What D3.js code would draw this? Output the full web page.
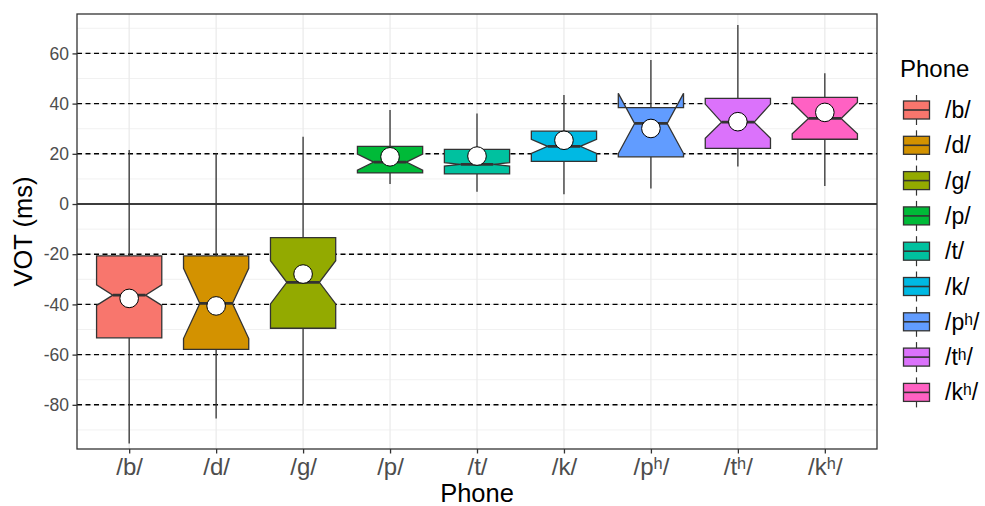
<!DOCTYPE html>
<html><head><meta charset="utf-8">
<script src="https://cdn.jsdelivr.net/npm/d3@7"></script>
<style>body{margin:0;background:#fff}svg{display:block;font-family:"Liberation Sans",Arial,sans-serif}</style>
</head><body><svg id="c" width="985" height="506"></svg>
<script>
const categories = ["/b/","/d/","/g/","/p/","/t/","/k/","/pʰ/","/tʰ/","/kʰ/"];
const colors = ["#F8766D","#D39200","#93AA00","#00BA38","#00C19F","#00B9E3","#619CFF","#DB72FB","#FF61C3"];
const whiskerLow  = [-95.4,-85.4,-79.8, 8.0, 4.9, 3.9, 6.2,14.9, 7.2];
const q1          = [-53.3,-57.9,-49.5,12.4,12.0,17.0,18.8,22.2,25.8];
const median      = [-36.3,-39.6,-31.2,16.7,15.8,23.0,32.1,32.6,34.1];
const q3          = [-20.7,-20.7,-13.4,23.0,21.8,29.0,38.4,42.1,42.5];
const notchLow    = [-40.4,-53.6,-39.8,13.5,15.1,20.2,20.1,26.2,28.0];
const notchHigh   = [-32.2,-25.6,-22.6,19.9,16.5,25.8,44.1,39.8,40.5];
const whiskerHigh = [ 21.5, 20.2, 26.8,37.5,36.1,43.4,57.4,71.3,52.1];
const meanVOT     = [-37.6,-40.6,-27.9,18.8,19.1,25.4,30.1,32.8,36.5];
const yTicks = [-80,-60,-40,-20,0,20,40,60];
const yMinor = [-90,-70,-50,-30,-10,10,30,50,70];
const refLines = [-80,-60,-40,-20,20,40,60];

const svg = d3.select("#c");
const P = {l:77, t:14, r:877, b:449};
const x = d3.scalePoint().domain(categories).range([P.l, P.r]).padding(0.6);
const step = x.step();
const y = d3.scaleLinear().domain([-97.6, 75.7]).range([P.b, P.t]);
const bw = step*0.75;

const g = svg.append("g");
g.append("rect").attr("x",P.l).attr("y",P.t).attr("width",P.r-P.l).attr("height",P.b-P.t).attr("fill","#fff");
// grid
g.selectAll(".ymin").data(yMinor).join("line").attr("x1",P.l).attr("x2",P.r)
  .attr("y1",d=>y(d)).attr("y2",d=>y(d)).attr("stroke","#EBEBEB").attr("stroke-width",0.7);
g.selectAll(".ymaj").data(yTicks).join("line").attr("x1",P.l).attr("x2",P.r)
  .attr("y1",d=>y(d)).attr("y2",d=>y(d)).attr("stroke","#EBEBEB").attr("stroke-width",1.3);
g.selectAll(".xmaj").data(categories).join("line").attr("y1",P.t).attr("y2",P.b)
  .attr("x1",d=>x(d)).attr("x2",d=>x(d)).attr("stroke","#EBEBEB").attr("stroke-width",1.3);
// reference lines
g.selectAll(".ref").data(refLines).join("line").attr("x1",P.l).attr("x2",P.r)
  .attr("y1",d=>y(d)).attr("y2",d=>y(d)).attr("stroke","#000").attr("stroke-width",1.4).attr("stroke-dasharray","5,3.5");
g.append("line").attr("x1",P.l).attr("x2",P.r).attr("y1",y(0)).attr("y2",y(0)).attr("stroke","#000").attr("stroke-width",1.4);

// boxes
categories.forEach((c,i)=>{
  const cx = x(c), xmin = cx-bw/2, xmax = cx+bw/2, nxmin = cx-bw/4, nxmax = cx+bw/4;
  g.append("line").attr("x1",cx).attr("x2",cx).attr("y1",y(q3[i])).attr("y2",y(whiskerHigh[i])).attr("stroke","#333").attr("stroke-width",1.3);
  g.append("line").attr("x1",cx).attr("x2",cx).attr("y1",y(q1[i])).attr("y2",y(whiskerLow[i])).attr("stroke","#333").attr("stroke-width",1.3);
  const pts = [[xmin,q3[i]],[xmin,notchHigh[i]],[nxmin,median[i]],[xmin,notchLow[i]],[xmin,q1[i]],
    [xmax,q1[i]],[xmax,notchLow[i]],[nxmax,median[i]],[xmax,notchHigh[i]],[xmax,q3[i]]];
  g.append("path").attr("d", d3.line().x(p=>p[0]).y(p=>y(p[1]))(pts)+"Z")
    .attr("fill",colors[i]).attr("stroke","#333").attr("stroke-width",1.3).attr("stroke-linejoin","miter");
  g.append("line").attr("x1",nxmin).attr("x2",nxmax).attr("y1",y(median[i])).attr("y2",y(median[i])).attr("stroke","#333").attr("stroke-width",2.8);
  g.append("circle").attr("cx",cx).attr("cy",y(meanVOT[i])).attr("r",9.3).attr("fill","#fff").attr("stroke","#000").attr("stroke-width",1);
});

g.append("rect").attr("x",P.l).attr("y",P.t).attr("width",P.r-P.l).attr("height",P.b-P.t).attr("fill","none").attr("stroke","#333").attr("stroke-width",1.3);

// axes
const ya = svg.append("g").attr("transform",`translate(${P.l},0)`)
  .call(d3.axisLeft(y).tickValues(yTicks).tickFormat(d=>String(d)).tickSize(4.5).tickPadding(3.5));
ya.select(".domain").remove();
ya.selectAll(".tick line").attr("stroke","#333").attr("stroke-width",1.3);
ya.selectAll(".tick text").attr("fill","#4D4D4D").style("font-size","17.5px").style("font-family","Liberation Sans, Arial, sans-serif");
const xa = svg.append("g").attr("transform",`translate(0,${P.b})`).call(d3.axisBottom(x).tickSize(4.5).tickPadding(4));
xa.select(".domain").remove();
xa.selectAll(".tick line").attr("stroke","#333").attr("stroke-width",1.3);
xa.selectAll(".tick text").attr("fill","#4D4D4D").style("font-size","24px").style("font-family","Liberation Sans, Arial, sans-serif");

svg.append("text").attr("x",(P.l+P.r)/2).attr("y",502).attr("text-anchor","middle").attr("font-size","25.5px").attr("fill","#000").text("Phone");
svg.append("text").attr("transform",`translate(32,${(P.t+P.b)/2}) rotate(-90)`).attr("text-anchor","middle").attr("font-size","25.5px").attr("fill","#000").text("VOT (ms)");

// legend
const L = svg.append("g");
L.append("text").attr("x",900).attr("y",77).attr("font-size","24px").attr("fill","#000").text("Phone");
categories.forEach((c,i)=>{
  const yc = 110 + i*35.3;
  L.append("line").attr("x1",916.5).attr("x2",916.5).attr("y1",yc-15).attr("y2",yc+15).attr("stroke","#333").attr("stroke-width",1.2);
  L.append("rect").attr("x",903.5).attr("y",yc-9).attr("width",26).attr("height",18).attr("fill",colors[i]).attr("stroke","#333").attr("stroke-width",1.3);
  L.append("line").attr("x1",903.5).attr("x2",929.5).attr("y1",yc).attr("y2",yc).attr("stroke","#333").attr("stroke-width",1.6);
  L.append("text").attr("x",945).attr("y",yc).attr("dy","0.35em").attr("font-size","23px").attr("fill","#000").text(c);
});
</script></body></html>
